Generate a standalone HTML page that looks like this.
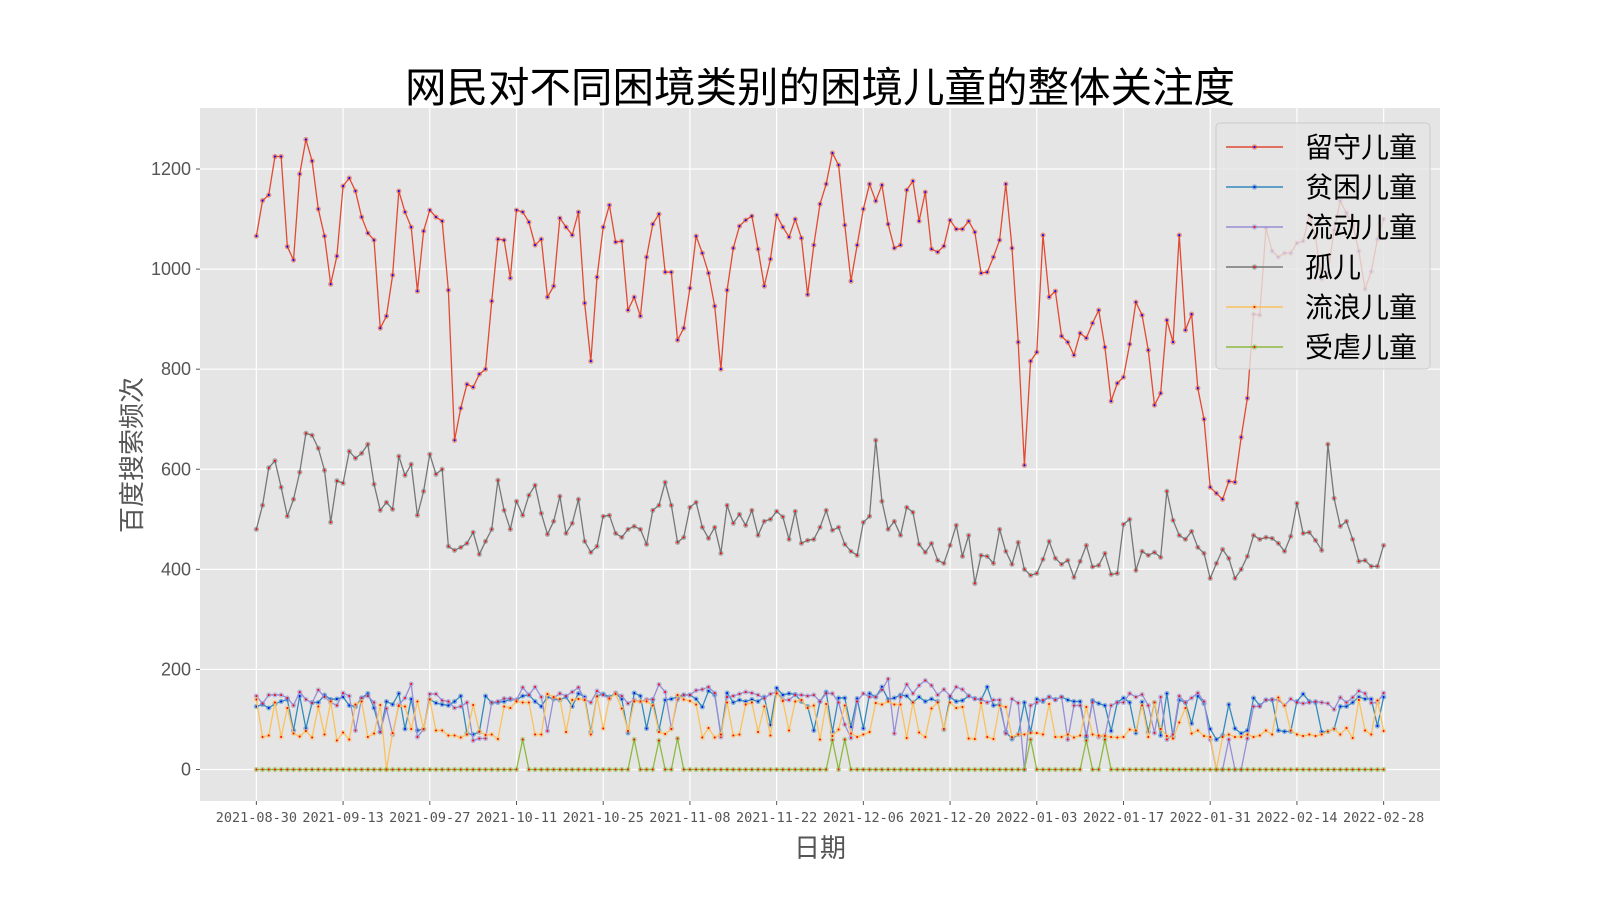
<!DOCTYPE html>
<html><head><meta charset="utf-8"><style>
html,body{margin:0;padding:0;background:#fff;}
svg{display:block;font-family:"Liberation Sans","Noto Sans CJK SC",sans-serif;}
</style></head><body>
<svg id="chart" width="1600" height="900" viewBox="0 0 1600 900">
<rect x="0" y="0" width="1600" height="900" fill="#fff"/>
<text x="820" y="102" text-anchor="middle" font-size="41.5" fill="#000" font-family="'Noto Sans CJK SC',sans-serif">网民对不同困境类别的困境儿童的整体关注度</text>
<rect x="200" y="108" width="1240" height="693" fill="#e5e5e5"/>
<g id="grid"></g>
<g id="axes"></g>
<g id="series"></g>
<g id="legend"></g>
<text x="820" y="857" text-anchor="middle" font-size="26" fill="#555" font-family="'Noto Sans CJK SC',sans-serif">日期</text>
<text transform="translate(141,455) rotate(-90)" text-anchor="middle" font-size="26" fill="#555" font-family="'Noto Sans CJK SC',sans-serif">百度搜索频次</text>
</svg>
<script>
const seriesNames = ["留守儿童","贫困儿童","流动儿童","孤儿","流浪儿童","受虐儿童"];
const xTickLabels = ["2021-08-30","2021-09-13","2021-09-27","2021-10-11","2021-10-25","2021-11-08","2021-11-22","2021-12-06","2021-12-20","2022-01-03","2022-01-17","2022-01-31","2022-02-14","2022-02-28"];
const yTickValues = [0,200,400,600,800,1000,1200];
const leftBehind = [1066,1137,1148,1225,1225,1045,1018,1190,1259,1216,1120,1066,970,1026,1166,1182,1156,1104,1072,1058,882,906,988,1156,1114,1084,956,1076,1118,1104,1096,958,658,722,770,764,790,800,936,1060,1058,982,1118,1114,1094,1048,1060,944,966,1102,1084,1068,1114,932,816,984,1084,1128,1054,1056,918,944,906,1024,1090,1110,994,994,858,882,962,1066,1032,992,926,800,958,1042,1086,1098,1106,1040,966,1020,1108,1084,1064,1100,1062,949,1048,1130,1170,1232,1208,1088,976,1048,1120,1170,1136,1168,1090,1042,1048,1158,1176,1096,1154,1040,1034,1046,1098,1080,1080,1096,1074,992,994,1024,1058,1170,1042,854,608,816,834,1068,944,956,866,854,828,872,862,892,918,844,736,772,784,850,934,908,838,728,752,898,854,1068,878,910,762,700,564,552,540,576,574,664,742,910,908,1082,1036,1024,1032,1032,1052,1056,1108,1064,980,992,1078,1136,1112,1088,1036,960,995,1060,1100];
const poor = [126,130,123,131,136,140,78,147,82,134,134,149,140,141,145,128,126,143,152,123,75,136,130,152,81,141,78,81,140,133,130,128,136,147,72,70,75,147,133,134,136,140,139,147,149,136,126,145,141,139,145,126,152,145,75,147,151,145,152,141,73,153,147,82,140,78,139,141,145,149,149,141,125,157,149,70,153,134,139,136,140,136,145,89,163,149,152,150,136,126,78,136,155,75,143,143,85,142,82,152,145,165,140,143,149,147,134,145,136,141,136,80,145,136,138,147,142,139,165,128,130,75,61,70,134,75,141,136,145,140,145,139,136,136,65,138,132,128,77,134,143,134,73,135,75,134,68,152,65,139,134,92,147,132,81,60,68,130,82,72,78,143,128,139,139,78,76,76,136,151,136,134,75,76,81,126,126,134,145,141,141,87,145];
const migrant = [147,132,149,149,149,143,128,155,140,133,159,145,134,128,153,147,78,143,147,134,75,122,70,129,143,171,65,80,151,151,138,136,123,126,134,58,62,62,134,136,142,142,139,164,149,165,145,77,143,152,147,155,164,140,134,157,149,141,153,147,132,139,136,140,140,170,155,82,140,149,149,158,160,165,153,65,145,147,151,155,153,149,142,151,155,139,139,149,149,147,149,136,152,152,134,90,63,136,152,145,145,159,181,72,145,170,152,168,178,168,149,160,147,165,160,147,141,141,134,139,139,72,141,133,0,128,134,139,145,139,145,60,128,128,68,134,65,68,128,134,134,152,145,150,128,73,145,60,70,147,134,143,153,136,60,0,0,60,0,0,62,126,126,139,140,139,128,141,134,132,134,136,134,132,120,144,134,144,157,152,133,134,153];
const orphan = [480,528,603,617,564,506,540,594,672,668,642,598,494,577,572,636,622,632,650,570,518,534,520,626,588,610,508,556,630,590,600,446,438,444,452,474,430,456,480,578,518,480,536,508,548,568,512,470,496,546,472,492,540,456,434,446,506,508,472,464,480,486,480,450,518,528,574,528,454,464,524,534,484,462,484,432,528,492,510,488,518,468,496,500,516,505,460,516,452,458,460,484,518,478,484,450,436,428,494,506,658,536,480,496,468,524,514,450,434,452,418,412,448,488,426,468,372,428,426,412,480,436,410,454,400,388,392,420,456,422,410,418,384,416,448,405,408,432,390,392,490,500,398,436,428,434,424,556,498,468,460,476,444,432,382,412,440,422,382,400,426,468,460,464,462,452,436,466,532,472,474,458,438,650,542,486,496,460,416,418,406,406,448];
const homeless = [140,65,68,134,65,123,72,66,77,64,126,70,136,58,74,60,130,136,65,72,129,0,73,127,126,81,136,81,140,78,78,68,68,64,70,129,76,69,70,61,126,123,136,134,134,70,70,151,145,141,75,139,141,139,70,146,82,142,151,122,77,136,136,136,128,75,71,81,149,140,137,130,64,83,64,70,134,68,70,130,134,75,126,68,152,137,78,136,139,123,128,60,131,67,80,128,72,65,70,75,133,130,136,130,130,63,134,74,65,122,134,81,134,123,125,62,61,133,65,61,128,125,65,70,70,73,73,70,131,65,65,70,64,68,125,70,68,67,65,64,65,80,78,128,65,134,81,67,62,94,123,72,78,67,65,0,65,70,65,65,70,65,68,78,70,144,128,78,70,67,70,67,70,76,81,70,83,63,139,78,70,138,77];
const abused = [0,0,0,0,0,0,0,0,0,0,0,0,0,0,0,0,0,0,0,0,0,0,0,0,0,0,0,0,0,0,0,0,0,0,0,0,0,0,0,0,0,0,0,60,0,0,0,0,0,0,0,0,0,0,0,0,0,0,0,0,0,60,0,0,0,58,0,0,62,0,0,0,0,0,0,0,0,0,0,0,0,0,0,0,0,0,0,0,0,0,0,0,0,59,0,60,0,0,0,0,0,0,0,0,0,0,0,0,0,0,0,0,0,0,0,0,0,0,0,0,0,0,0,0,0,60,0,0,0,0,0,0,0,0,58,0,0,60,0,0,0,0,0,0,0,0,0,0,0,0,0,0,0,0,0,0,0,0,0,0,0,0,0,0,0,0,0,0,0,0,0,0,0,0,0,0,0,0,0,0,0,0,0];

const NS="http://www.w3.org/2000/svg";
const PL=200,PR=1440,PT=108,PB=801;
const nDays = leftBehind.length-1;
const allVals = [].concat(leftBehind,poor,migrant,orphan,homeless,abused);
const yMax = Math.max(...allVals), yMin = Math.min(...allVals);
const yLo = yMin-(yMax-yMin)*0.05, yHi = yMax+(yMax-yMin)*0.05;
function xScale(d){return PL+(d+nDays*0.05)/(nDays*1.1)*(PR-PL);}
function yScale(v){return PB-(v-yLo)/(yHi-yLo)*(PB-PT);}
function mk(tag,attrs,parent){const e=document.createElementNS(NS,tag);for(const k in attrs)e.setAttribute(k,attrs[k]);parent.appendChild(e);return e;}

const grid=document.getElementById('grid'), axes=document.getElementById('axes');
yTickValues.forEach(v=>{
  const y=yScale(v);
  const gl=mk('line',{x1:PL,x2:PR,y1:y,y2:y,stroke:'#fff','stroke-width':1.2},grid);
  
  
  const tk=mk('line',{x1:PL-4,x2:PL,y1:y,y2:y,stroke:'#555','stroke-width':1},axes);
  
  
  const t=mk('text',{x:PL-9,y:y+6,'text-anchor':'end','font-size':18,fill:'#555'},axes);
  t.textContent=v;
  
  
});
xTickLabels.forEach((lab,i)=>{
  const x=xScale(i*14);
  const gl=mk('line',{x1:x,x2:x,y1:PT,y2:PB,stroke:'#fff','stroke-width':1.2},grid);
  
  
  const tk=mk('line',{x1:x,x2:x,y1:PB,y2:PB+4,stroke:'#555','stroke-width':1},axes);
  
  
  const t=mk('text',{x:x,y:PB+21,'text-anchor':'middle','font-size':13.5,fill:'#555','font-family':"'DejaVu Sans Mono','Liberation Mono',monospace"},axes);
  t.textContent=lab;
  
  
});

const seriesData=[leftBehind,poor,migrant,orphan,homeless,abused];
const colors=['#E24A33','#348ABD','#988ED5','#777777','#FBC15E','#8EBA42'];
const dotColors=['#0000ff','#0000ff','#ff0000','#ff0000','#ff0000','#ff0000'];
const sKeys=['left-behind','poor','migrant','orphan','homeless','abused'];
const sg=document.getElementById('series');
[3,0,1,2,4,5].forEach(si=>{
  const data=seriesData[si];
  const g=mk('g',{},sg);
  
  
  const pts=data.map((v,d)=>xScale(d).toFixed(2)+','+yScale(v).toFixed(2)).join(' ');
  const pl=mk('polyline',{points:pts,fill:'none',stroke:colors[si],'stroke-width':1.3,'stroke-linejoin':'round'},g);
  
  
  data.forEach((v,d)=>{
    const c=mk('circle',{cx:xScale(d),cy:yScale(v),r:2.6,fill:colors[si],'fill-opacity':0.55},g);
    
    
    const c2=mk('circle',{cx:xScale(d),cy:yScale(v),r:1,fill:dotColors[si]},g);
    
    
  });
});

const lg=document.getElementById('legend');
const box=mk('rect',{x:1216,y:123,width:214,height:246,rx:4,fill:'#e5e5e5','fill-opacity':0.8,stroke:'#cccccc','stroke-width':1},lg);


seriesNames.forEach((nm,i)=>{
  const y=147+i*40;
  const g=mk('g',{},lg);
  
  
  mk('line',{x1:1226,x2:1283,y1:y,y2:y,stroke:colors[i],'stroke-width':1.5},g);
  mk('circle',{cx:1254.5,cy:y,r:2.6,fill:colors[i],'fill-opacity':0.6},g);
  mk('circle',{cx:1254.5,cy:y,r:1,fill:dotColors[i]},g);
  const t=mk('text',{x:1305,y:y+10,'font-size':28,fill:'#000','font-family':"'Noto Sans CJK SC',sans-serif"},g);
  t.textContent=nm;
  
  
});
</script>
</body></html>
